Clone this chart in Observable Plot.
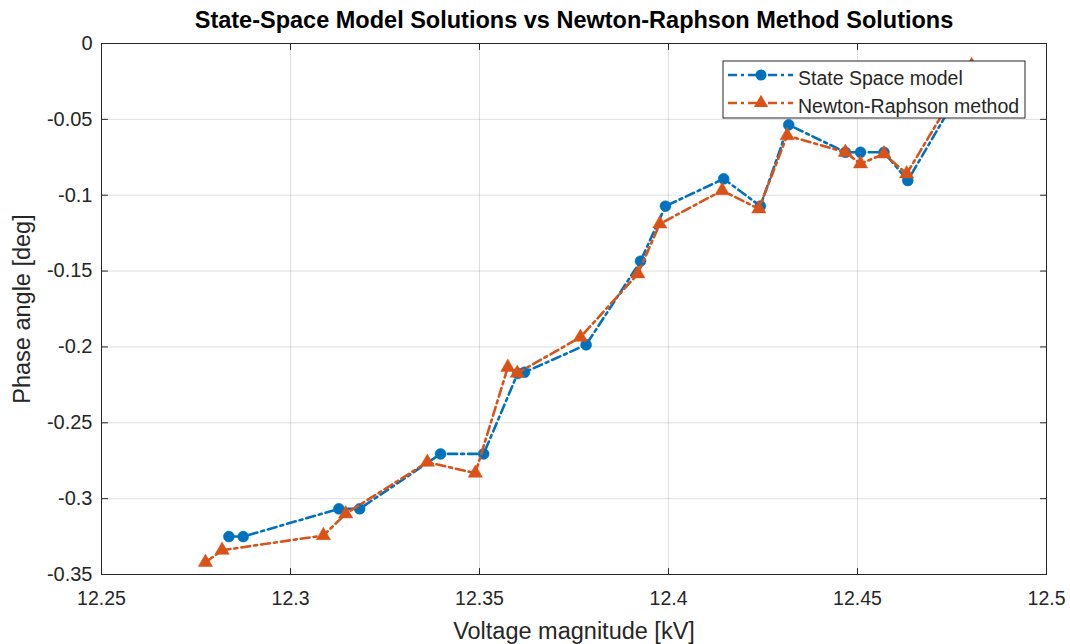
<!DOCTYPE html>
<html>
<head>
<meta charset="utf-8">
<script src="https://cdn.jsdelivr.net/npm/d3@7"></script>
<script src="https://cdn.jsdelivr.net/npm/@observablehq/plot@0.6"></script>
<style>
  html, body { margin: 0; padding: 0; background: #ffffff; }
  #chart { width: 1070px; height: 644px; }
</style>
</head>
<body>
<div id="chart"></div>
<script>
const titleText = "State-Space Model Solutions vs Newton-Raphson Method Solutions";
const xLabelText = "Voltage magnitude [kV]";
const yLabelText = "Phase angle [deg]";
const seriesNames = ["State Space model", "Newton-Raphson method"];

const xTicks = [12.25, 12.3, 12.35, 12.4, 12.45, 12.5];
const xTickLabels = ["12.25", "12.3", "12.35", "12.4", "12.45", "12.5"];
const yTicks = [0, -0.05, -0.1, -0.15, -0.2, -0.25, -0.3, -0.35];
const yTickLabels = ["0", "-0.05", "-0.1", "-0.15", "-0.2", "-0.25", "-0.3", "-0.35"];

const ssX = [12.2837, 12.2875, 12.3128, 12.3183, 12.3397, 12.3511, 12.3601, 12.3619, 12.3782, 12.3926, 12.3992, 12.4146, 12.4243, 12.4318, 12.4468, 12.4508, 12.4570, 12.4633, 12.4805];
const ssY = [-0.3250, -0.3250, -0.3067, -0.3067, -0.2705, -0.2705, -0.2175, -0.2167, -0.1986, -0.1435, -0.1072, -0.0892, -0.1072, -0.0536, -0.0717, -0.0717, -0.0717, -0.0903, -0.0170];

const nrX = [12.2775, 12.2819, 12.3087, 12.3146, 12.3362, 12.3489, 12.3575, 12.3600, 12.3767, 12.3919, 12.3977, 12.4142, 12.4239, 12.4314, 12.4468, 12.4508, 12.4570, 12.4630, 12.4802];
const nrY = [-0.3420, -0.3340, -0.3243, -0.3100, -0.2760, -0.2832, -0.2134, -0.2173, -0.1936, -0.1518, -0.1189, -0.0969, -0.1090, -0.0607, -0.0717, -0.0793, -0.0727, -0.0859, -0.0145];

const blue = "#0072BD";
const orange = "#D95319";
const axisColor = "#262626";
const dash = "9,4,3,4";
const lineW = 2.6;
const font = "'Liberation Sans', Arial, Helvetica, sans-serif";

const ss = ssX.map((x, i) => ({x, y: ssY[i]}));
const nr = nrX.map((x, i) => ({x, y: nrY[i]}));

const tickShape = {draw(context, l) { context.moveTo(0, 0); context.lineTo(0, -l); }};

const plot = Plot.plot({
  width: 1070,
  height: 644,
  marginLeft: 101,
  marginRight: 24,
  marginTop: 43,
  marginBottom: 70,
  style: {fontFamily: font, background: "#ffffff", color: axisColor},
  x: {domain: [12.25, 12.5], axis: null},
  y: {domain: [-0.35, 0], axis: null},
  marks: [
    Plot.gridX(xTicks, {stroke: axisColor, strokeOpacity: 0.15, strokeWidth: 1}),
    Plot.gridY(yTicks, {stroke: axisColor, strokeOpacity: 0.15, strokeWidth: 1}),
    Plot.line(ss, {x: "x", y: "y", stroke: blue, strokeWidth: lineW, strokeDasharray: dash}),
    Plot.dot(ss, {x: "x", y: "y", r: 5.5, fill: blue, stroke: blue, strokeWidth: 0.5}),
    Plot.line(nr, {x: "x", y: "y", stroke: orange, strokeWidth: lineW, strokeDasharray: dash}),
    Plot.dot(nr, {x: "x", y: "y", r: 5.3, symbol: "triangle", fill: orange, stroke: orange, strokeWidth: 0.5}),
    Plot.frame({stroke: axisColor, strokeWidth: 1}),
    Plot.vector(xTicks, {x: d => d, frameAnchor: "bottom", anchor: "start", rotate: 0, length: 6, shape: tickShape, stroke: axisColor, strokeWidth: 1}),
    Plot.vector(xTicks, {x: d => d, frameAnchor: "top", anchor: "start", rotate: 180, length: 6, shape: tickShape, stroke: axisColor, strokeWidth: 1}),
    Plot.vector(yTicks, {y: d => d, frameAnchor: "left", anchor: "start", rotate: 90, length: 6, shape: tickShape, stroke: axisColor, strokeWidth: 1}),
    Plot.vector(yTicks, {y: d => d, frameAnchor: "right", anchor: "start", rotate: -90, length: 6, shape: tickShape, stroke: axisColor, strokeWidth: 1}),
    Plot.axisX(xTicks, {anchor: "bottom", tickSize: 0, tickPadding: 17, tickFormat: d => xTickLabels[xTicks.indexOf(d)], fontSize: 19.5, fill: axisColor, label: null}),
    Plot.axisY(yTicks, {anchor: "left", tickSize: 0, tickPadding: 9, tickFormat: d => yTickLabels[yTicks.indexOf(d)], fontSize: 20, fill: axisColor, label: null}),
    Plot.text([titleText], {frameAnchor: "top", dy: -23, text: d => d, fontSize: 23.5, fontWeight: "bold", fill: "#000000", textAnchor: "middle", lineAnchor: "middle"}),
    Plot.text([xLabelText], {frameAnchor: "bottom", dy: 57, text: d => d, fontSize: 23.5, fill: axisColor, textAnchor: "middle", lineAnchor: "middle"}),
    Plot.text([yLabelText], {frameAnchor: "left", dx: -79, text: d => d, fontSize: 23.5, fill: axisColor, rotate: -90, textAnchor: "middle", lineAnchor: "middle"})
  ]
});

document.getElementById("chart").appendChild(plot);

// Legend (inside the axes, top-right), drawn on top of the data
const svg = d3.select(plot);
const lg = svg.append("g").attr("class", "legend").attr("font-family", font);
const box = {x: 723, y: 61, w: 302, h: 57};
lg.append("rect").attr("x", box.x).attr("y", box.y).attr("width", box.w).attr("height", box.h)
  .attr("fill", "#ffffff").attr("stroke", axisColor).attr("stroke-width", 1);
const entries = [
  {name: seriesNames[0], color: blue, sym: d3.symbolCircle, size: Math.PI * 5.5 * 5.5, y: box.y + 14},
  {name: seriesNames[1], color: orange, sym: d3.symbolTriangle, size: Math.PI * 5.3 * 5.3, y: box.y + 42}
];
entries.forEach(e => {
  lg.append("line").attr("x1", box.x + 5).attr("x2", box.x + 70).attr("y1", e.y).attr("y2", e.y)
    .attr("stroke", e.color).attr("stroke-width", lineW).attr("stroke-dasharray", dash);
  lg.append("path").attr("d", d3.symbol(e.sym, e.size)())
    .attr("transform", `translate(${box.x + 38},${e.y})`).attr("fill", e.color);
  lg.append("text").attr("x", box.x + 75).attr("y", e.y + 9.5)
    .attr("text-anchor", "start")
    .attr("font-size", 19.5).attr("fill", axisColor).text(e.name);
});
</script>
</body>
</html>
